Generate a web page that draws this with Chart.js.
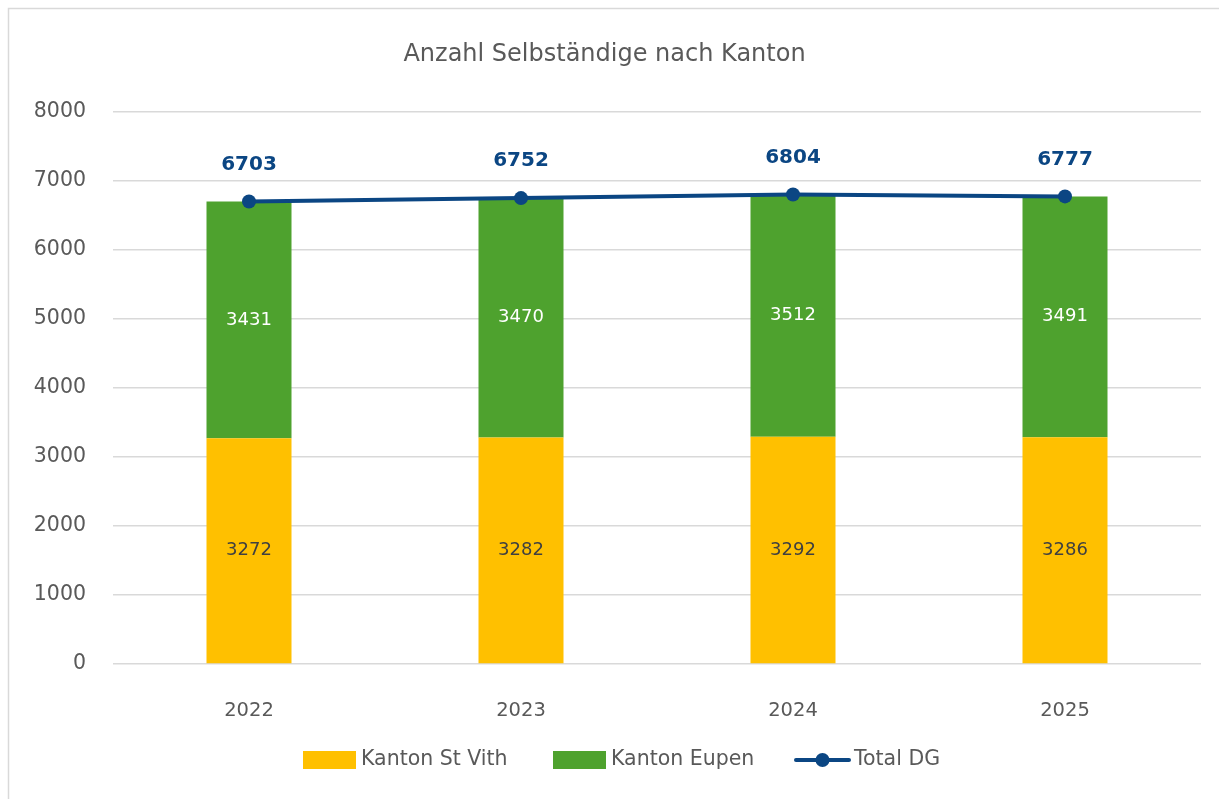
<!DOCTYPE html>
<html>
<head>
<meta charset="utf-8">
<script src="https://cdn.jsdelivr.net/npm/chart.js@4"></script>
<style>
  body { margin: 0; background: #fff; }
  #wrap { width: 1219px; height: 799px; position: relative; }
</style>
</head>
<body>
<div id="wrap"><canvas id="mainChart"></canvas></div>
<script>
var years = ['2022', '2023', '2024', '2025'];
var stVith = [3272, 3282, 3292, 3286];
var eupen = [3431, 3470, 3512, 3491];
var totalDG = [6703, 6752, 6804, 6777];
var yTicks = [0, 1000, 2000, 3000, 4000, 5000, 6000, 7000, 8000];

var fontFamily = '"DejaVu Sans", sans-serif';
var grey = '#595959';

// Frame + white background
var framePlugin = {
    id: 'frame',
    beforeDraw: function(chart) {
        var ctx = chart.ctx;
        ctx.save();
        ctx.fillStyle = '#fff';
        ctx.fillRect(0, 0, chart.width, chart.height);
        ctx.strokeStyle = '#d9d9d9';
        ctx.lineWidth = 1.5;
        ctx.strokeRect(8.5, 8.5, chart.width + 20, chart.height + 20);
        ctx.restore();
    }
};

// Value labels on bars and above the line
var labelPlugin = {
    id: 'valueLabels',
    afterDatasetsDraw: function(chart) {
        var ctx = chart.ctx;
        ctx.save();
        ctx.textAlign = 'center';
        ctx.textBaseline = 'middle';
        chart.data.datasets.forEach(function(ds, i) {
            var meta = chart.getDatasetMeta(i);
            meta.data.forEach(function(el, j) {
                if (ds.type === 'line') {
                    ctx.font = 'bold 20px ' + fontFamily;
                    ctx.fillStyle = '#0b4683';
                    ctx.fillText(ds.data[j], el.x, el.y - 37);
                } else {
                    ctx.font = '18px ' + fontFamily;
                    ctx.fillStyle = ds.labelColor;
                    ctx.fillText(ds.data[j], el.x, (el.y + el.base) / 2);
                }
            });
        });
        ctx.restore();
    }
};

// Bottom legend
var legendPlugin = {
    id: 'bottomLegend',
    afterDraw: function(chart) {
        var ctx = chart.ctx;
        var ds = chart.data.datasets;
        var y = 760;
        var items = [
            {x: 303, ds: ds[1]},
            {x: 553, ds: ds[2]},
            {x: 796, ds: ds[0]}
        ];
        ctx.save();
        ctx.font = '20.5px ' + fontFamily;
        ctx.textBaseline = 'middle';
        ctx.textAlign = 'left';
        items.forEach(function(it) {
            if (it.ds.type === 'line') {
                ctx.strokeStyle = it.ds.borderColor;
                ctx.lineWidth = 4;
                ctx.lineCap = 'round';
                ctx.beginPath();
                ctx.moveTo(it.x, y);
                ctx.lineTo(it.x + 53, y);
                ctx.stroke();
                ctx.fillStyle = it.ds.borderColor;
                ctx.beginPath();
                ctx.arc(it.x + 26.5, y, 7, 0, Math.PI * 2);
                ctx.fill();
            } else {
                ctx.fillStyle = it.ds.backgroundColor;
                ctx.fillRect(it.x, y - 9, 53, 18);
            }
            ctx.fillStyle = grey;
            ctx.fillText(it.ds.label, it.x + 58, y);
        });
        ctx.restore();
    }
};

var chartContainer = document.getElementById('mainChart');
var mainChart = new Chart(chartContainer, {
    type: 'bar',
    data: {
        labels: years,
        datasets: [
            {
                type: 'line',
                label: 'Total DG',
                data: totalDG,
                stack: 'total',
                order: 0,
                borderColor: '#0b4683',
                backgroundColor: '#0b4683',
                borderWidth: 4,
                pointRadius: 7,
                pointBackgroundColor: '#0b4683',
                pointBorderWidth: 0,
                tension: 0
            },
            {
                label: 'Kanton St Vith',
                data: stVith,
                stack: 'kantone',
                order: 1,
                backgroundColor: '#ffc000',
                labelColor: '#404040'
            },
            {
                label: 'Kanton Eupen',
                data: eupen,
                stack: 'kantone',
                order: 1,
                backgroundColor: '#4ea22e',
                labelColor: '#ffffff'
            }
        ]
    },
    options: {
        responsive: true,
        maintainAspectRatio: false,
        animation: false,
        layout: { padding: { left: 8, right: 18, top: 0, bottom: 75 } },
        datasets: {
            bar: { categoryPercentage: 1, barPercentage: 0.3125 }
        },
        plugins: {
            legend: { display: false },
            tooltip: { enabled: false },
            title: {
                display: true,
                text: 'Anzahl Selbständige nach Kanton',
                color: grey,
                font: { family: fontFamily, size: 24, weight: 'normal' },
                padding: { top: 40, bottom: 43.2 }
            }
        },
        scales: {
            x: {
                stacked: true,
                grid: { display: false },
                border: { display: false },
                ticks: {
                    color: grey,
                    font: { family: fontFamily, size: 19.5 },
                    padding: 27
                },
                afterFit: function(scale) { scale.height = 60; }
            },
            y: {
                stacked: true,
                min: 0,
                max: 8000,
                afterBuildTicks: function(scale) {
                    scale.ticks = yTicks.map(function(v) { return {value: v}; });
                },
                grid: { color: '#d9d9d9', lineWidth: 1.5, drawTicks: false },
                border: { display: false },
                ticks: {
                    color: grey,
                    font: { family: fontFamily, size: 20.5 },
                    padding: 27,
                    callback: function(v) { return String(v); }
                },
                afterFit: function(scale) { scale.width = 105; }
            }
        }
    },
    plugins: [framePlugin, labelPlugin, legendPlugin]
});
</script>
</body>
</html>
